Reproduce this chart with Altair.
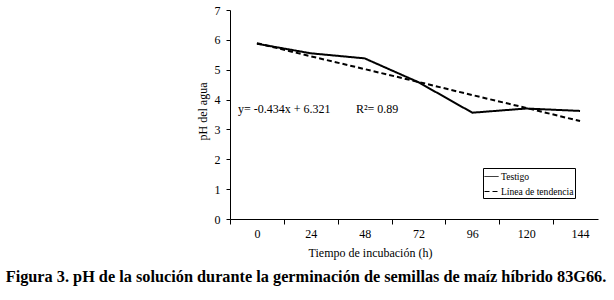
import altair as alt
import pandas as pd

horas = [0, 24, 48, 72, 96, 120, 144]
testigo = [5.87, 5.55, 5.38, 4.58, 3.56, 3.70, 3.62]
tendencia = [5.89, 5.45, 5.02, 4.59, 4.15, 3.72, 3.28]
series = ["Testigo", "Línea de tendencia"]

df = pd.DataFrame({
    "h": horas + horas,
    "pH": testigo + tendencia,
    "serie": [series[0]] * len(horas) + [series[1]] * len(horas),
})

FONT = "Liberation Serif"
W, H = 368, 209
half = W / (152 - (-12)) * 12

lines = alt.Chart(df).mark_line(color="black", strokeWidth=2).encode(
    x=alt.X("h:Q",
            scale=alt.Scale(domain=[-12, 152], nice=False, zero=False),
            axis=alt.Axis(values=horas, title="Tiempo de incubación (h)",
                          tickOffset=-half, labelOffset=half,
                          tickSize=5, labelPadding=4, grid=False,
                          titleX=140, titleY=37,
                          titleAlign="center", titleBaseline="alphabetic")),
    y=alt.Y("pH:Q",
            scale=alt.Scale(domain=[0, 7], nice=False),
            axis=alt.Axis(values=list(range(8)), title="pH del agua",
                          tickSize=4, labelPadding=6, grid=False,
                          titleX=-28, titleY=101, titleAngle=-90,
                          titleAlign="center", titleBaseline="middle")),
    strokeDash=alt.StrokeDash(
        "serie:N",
        scale=alt.Scale(domain=series, range=[[1, 0], [5, 3]]),
        legend=alt.Legend(title=None, orient="none", legendX=253, legendY=158,
                          symbolType="stroke", symbolSize=196,
                          symbolStrokeWidth=1, symbolStrokeColor="black",
                          strokeColor="black", padding=1, rowPadding=2,
                          labelOffset=2)),
)

eq = alt.Chart(pd.DataFrame({"t": ["y= -0.434x + 6.321"]})).mark_text(
    font=FONT, fontSize=12, align="left", baseline="alphabetic", color="black"
).encode(x=alt.value(8), y=alt.value(103), text="t:N")

r2 = alt.Chart(pd.DataFrame({"t": ["R²= 0.89"]})).mark_text(
    font=FONT, fontSize=12, align="left", baseline="alphabetic", color="black"
).encode(x=alt.value(126), y=alt.value(103), text="t:N")

caption = alt.Chart(pd.DataFrame({"t": [
    "Figura 3. pH de la solución durante la germinación de semillas de maíz híbrido 83G66."
]})).mark_text(
    font=FONT, fontSize=16.3, fontWeight="bold", align="center",
    baseline="alphabetic", color="black"
).encode(x=alt.value(76), y=alt.value(272), text="t:N")

chart = alt.layer(lines, eq, r2, caption).properties(
    width=W, height=H,
    autosize=alt.AutoSizeParams(type="none"),
    padding={"left": 230, "top": 10, "right": 16, "bottom": 81},
).configure(
    font=FONT, background="white"
).configure_view(stroke=None).configure_axis(
    domainColor="black", tickColor="black", domainWidth=1, tickWidth=1,
    labelFont=FONT, labelFontSize=12, labelColor="black",
    titleFont=FONT, titleFontSize=12, titleColor="black", titleFontWeight="normal",
).configure_legend(
    labelFont=FONT, labelFontSize=9.6, labelColor="black",
)

chart.save("out.html", embed_options={"renderer": "svg", "actions": False})
